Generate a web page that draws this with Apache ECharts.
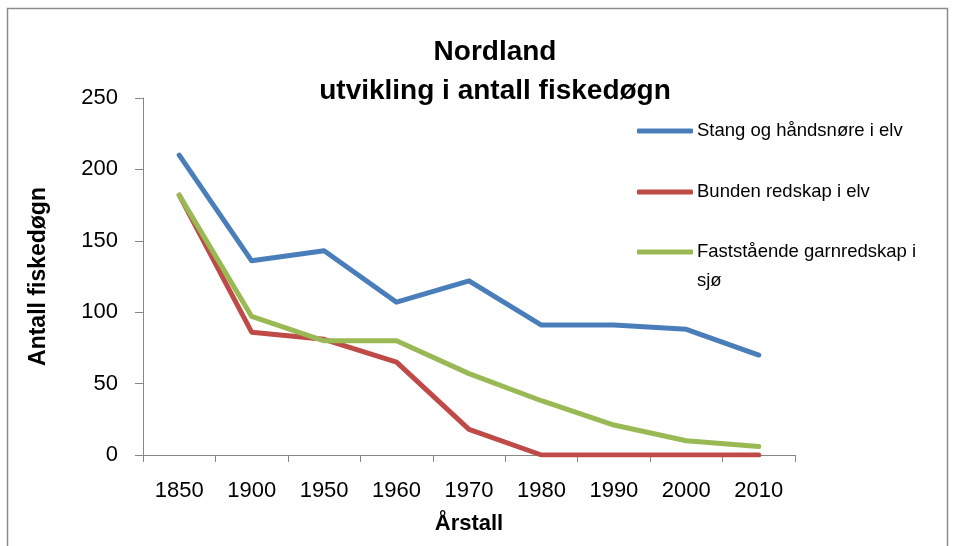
<!DOCTYPE html>
<html><head><meta charset="utf-8">
<script src="https://cdn.jsdelivr.net/npm/echarts@6/dist/echarts.min.js"></script>
<style>html,body{margin:0;padding:0;background:#fff}#c{width:954px;height:546px}</style>
</head><body><div id="c"></div>
<script>
const categories = ['1850','1900','1950','1960','1970','1980','1990','2000','2010'];
const stang = [210, 136, 143, 107, 122, 91, 91, 88, 70];
const bunden = [182, 86, 81, 65, 18, 0, 0, 0, 0];
const fast = [182, 97, 80, 80, 57, 38, 21, 10, 6];
const names = ['Stang og håndsnøre i elv', 'Bunden redskap i elv', 'Faststående garnredskap i sjø'];
const colors = ['#4A7EBB', '#BE4B48', '#98B954'];
const FONT = 'Liberation Sans';

const chart = echarts.init(document.getElementById('c'));
function legendFor(i, top, fmt) {
  return {
    data: [names[i]], left: 637, top: top, padding: 0, orient: 'vertical',
    icon: 'roundRect', itemWidth: 56, itemHeight: 5, itemGap: 0,
    selectedMode: false,
    formatter: fmt || (n => n),
    textStyle: { fontFamily: FONT, fontSize: 18.5, color: '#000', lineHeight: 29, padding: [0, 0, 0, -1] }
  };
}
chart.setOption({
  animation: false,
  backgroundColor: '#fff',
  graphic: [{ type: 'rect', shape: { x: 7.5, y: 8.5, width: 940, height: 560 }, style: { fill: 'none', stroke: '#8c8c8c', lineWidth: 1.5 }, silent: true }],
  title: {
    text: 'Nordland\nutvikling i antall fiskedøgn',
    left: 490, top: 28, textAlign: 'center',
    textStyle: { fontFamily: FONT, fontWeight: 'bold', fontSize: 28, lineHeight: 39, color: '#000' }
  },
  legend: [
    legendFor(0, 116.5),
    legendFor(1, 177.5),
    legendFor(2, 208.5, n => '\n' + 'Faststående garnredskap i' + '\n' + 'sjø')
  ],
  grid: { left: 143, right: 159, top: 98, bottom: 91 },
  xAxis: {
    type: 'category', data: categories, boundaryGap: true,
    name: 'Årstall', nameLocation: 'middle', nameGap: 58,
    nameTextStyle: { fontFamily: FONT, fontWeight: 'bold', fontSize: 22, color: '#000' },
    axisLine: { lineStyle: { color: '#868686', width: 1 } },
    axisTick: { show: true, length: 7, alignWithLabel: false, lineStyle: { color: '#868686' } },
    axisLabel: { fontFamily: FONT, fontSize: 22, color: '#000', margin: 25 },
    splitLine: { show: false }
  },
  yAxis: {
    type: 'value', min: 0, max: 250, interval: 50,
    name: 'Antall fiskedøgn', nameLocation: 'middle', nameGap: 93, nameRotate: 90,
    nameTextStyle: { fontFamily: FONT, fontWeight: 'bold', fontSize: 23, color: '#000' },
    axisLine: { show: true, lineStyle: { color: '#868686', width: 1 } },
    axisTick: { show: true, length: 8, lineStyle: { color: '#868686' } },
    axisLabel: { fontFamily: FONT, fontSize: 22, color: '#000', margin: 25 },
    splitLine: { show: false }
  },
  series: [stang, bunden, fast].map((d, i) => ({
    name: names[i], type: 'line', data: d, symbol: 'none',
    lineStyle: { color: colors[i], width: 5, cap: 'round', join: 'round' },
    itemStyle: { color: colors[i] }
  }))
});
</script></body></html>
